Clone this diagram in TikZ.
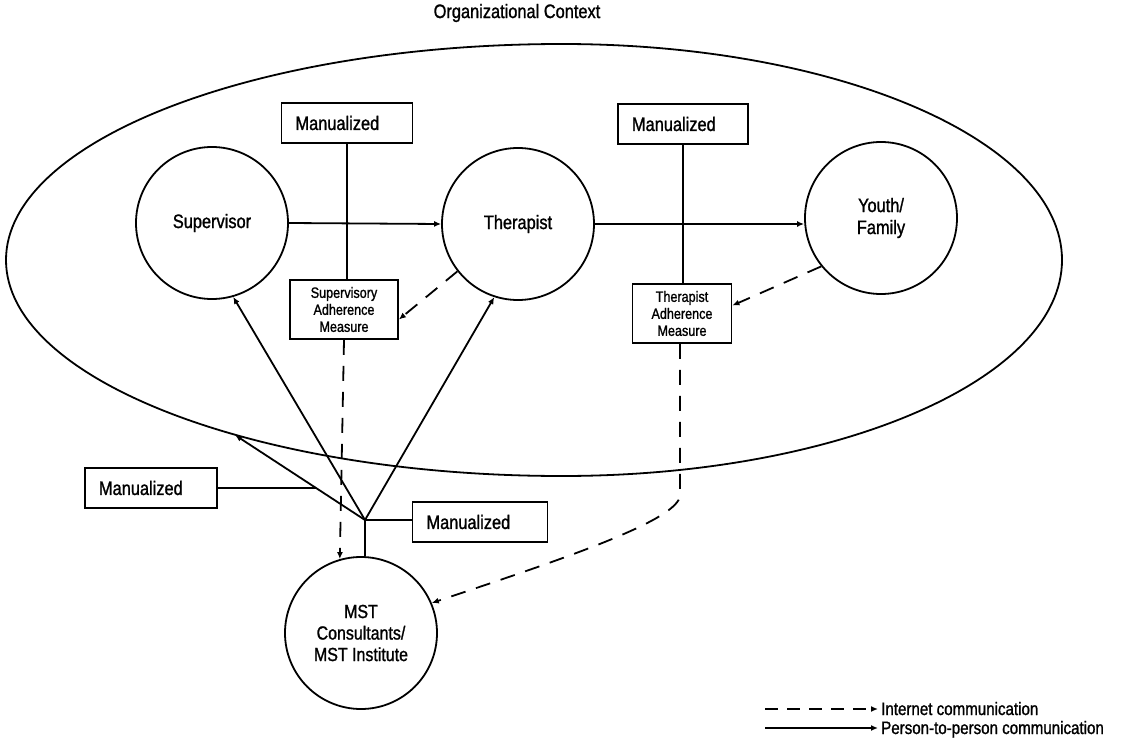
\documentclass[tikz,border=0pt]{standalone}
\usepackage{fontspec}
\setmainfont{Liberation Sans}[FakeStretch=0.84,FakeBold=1.2]
\usetikzlibrary{arrows.meta}
\begin{document}
\begin{tikzpicture}[x=1pt,y=1pt,
  every node/.style={font=\fontsize{19.5}{22}\selectfont},
  ln/.style={line width=1.8pt},
  dsh/.style={line width=1.8pt, dash pattern=on 15pt off 11pt},
  arr/.style={-{Latex[length=7pt,width=6pt]}},
  person/.style={circle, draw, line width=1.8pt, minimum size=152pt, inner sep=0pt, align=center},
  manbox/.style={draw, line width=1.8pt, minimum height=40pt, inner xsep=14pt, text width=#1, align=left},
  adhbox/.style={draw, line width=1.8pt, minimum height=59pt, inner sep=2pt, align=center, font=\fontsize{15}{17}\selectfont},
  legtext/.style={anchor=base west, inner sep=0pt, font=\fontsize{18}{19}\selectfont}]
\useasboundingbox (0,0) rectangle (1125,-744);

\node (title) at (517,-13) {Organizational Context};

% organizational context ellipse
\draw[ln] (1062,-260) arc[start angle=0, end angle=-90, x radius=500pt, y radius=216pt]
  arc[start angle=-90, end angle=-270, x radius=556pt, y radius=216pt]
  arc[start angle=90, end angle=0, x radius=500pt, y radius=216pt] -- cycle;

\node[person] (sup) at (212,-223) {Supervisor};
\node[person] (ther) at (518,-224) {Therapist};
\node[person] (youth) at (881,-218) {Youth/\\Family};
\node[person, font=\fontsize{19}{21.5}\selectfont] (mst) at (361,-633) {MST\\Consultants/\\MST Institute};

\node[manbox=103pt] (man1) at (347,-123) {Manualized};
\node[manbox=102pt] (man2) at (683,-124) {Manualized};
\node[manbox=104pt] (man3) at (151,-488) {Manualized};
\node[manbox=107pt] (man4) at (480,-522) {Manualized};

\node[adhbox, minimum width=108pt, text width=102pt] (sab) at (344,-309.5) {Supervisory\\Adherence\\Measure};
\node[adhbox, minimum width=99pt, text width=93pt] (tab) at (682,-313.5) {Therapist\\Adherence\\Measure};

\coordinate (hub) at (365,-520);
\coordinate (ctx) at (235,-435);
\coordinate (j) at (316,-488);
\coordinate (bend) at (680,-495);

\draw[ln,arr] (sup.east) -- (ther.west);
\draw[ln,arr] (ther.east) -- (youth.west |- ther.east);
\draw[ln] (man1.south) -- (man1.south |- sab.north);
\draw[ln] (man2.south) -- (man2.south |- tab.north);
\draw[dsh,arr] (ther.-142) -- ([yshift=-10pt]sab.east);
\draw[dsh,arr] (youth.-141) -- ([yshift=8pt]tab.east);
\draw[dsh,arr] (sab.south) -- (mst.106);
\draw[dsh,arr] ([xshift=-2pt]tab.south) -- (bend) .. controls (680,-520) and (560,-560) .. (mst.23);

\draw[ln,arr] (hub) -- (sup.-74.5);
\draw[ln,arr] (hub) -- (ther.-108);
\draw[ln,arr] (hub) -- (ctx);
\draw[ln] (hub) -- (hub |- mst.north);
\draw[ln] (hub) -- (hub -| man4.west);
\draw[ln] (man3.east) -- (j);

% legend
\coordinate (l1a) at (765,-709);
\coordinate (l1b) at (878,-709);
\coordinate (l2a) at (765,-728);
\coordinate (l2b) at (878,-728);
\draw[line width=1.8pt, dash pattern=on 13pt off 9pt, arr] (l1a) -- (l1b);
\draw[ln,arr] (l2a) -- (l2b);
\node[legtext] (lt1) at (881,-715) {Internet communication};
\node[legtext] (lt2) at (881,-734) {Person-to-person communication};
\end{tikzpicture}
\end{document}
